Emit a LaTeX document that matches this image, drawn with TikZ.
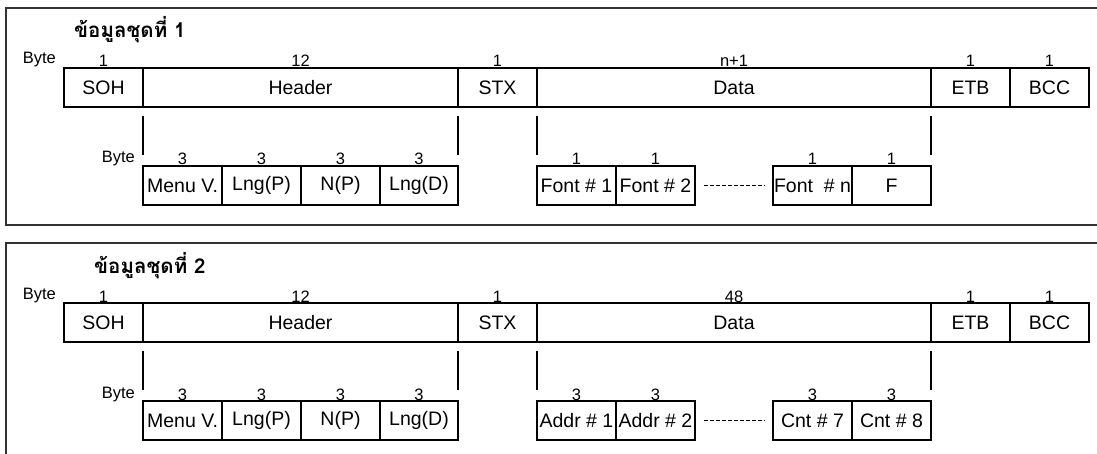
\documentclass[tikz,border=0pt]{standalone}
\usepackage{fontspec}
\setmainfont{Liberation Sans}
\newfontfamily\thaifont[Script=Thai]{Loma}
\begin{document}
\tikzset{
  box/.style={draw, line width=1.1pt, inner sep=0pt, outer sep=0pt, anchor=north west,
    minimum height=39pt, font=\fontsize{19.5}{22}\selectfont},
  sbox/.style={box, minimum width=79pt},
  num/.style={anchor=base, inner sep=0pt, yshift=1pt, font=\fontsize{16.5}{18}\selectfont},
  bytelbl/.style={anchor=base east, inner sep=0pt, font=\fontsize{16.5}{18}\selectfont},
  stub/.style={line width=1.1pt},
  dots/.style={line width=0.8pt, dash pattern=on 3.5pt off 2.5pt},
  frameline/.style={line width=1.5pt, draw=black!80},
  titlelbl/.style={anchor=base west, inner sep=0pt, font=\thaifont\bfseries\fontsize{20.5}{24}\selectfont}
}
\begin{tikzpicture}[x=1pt,y=-1pt]
\useasboundingbox (0,0) rectangle (1097,454);
% ---------------- record 1 ----------------
\draw[frameline] (1097,8) -- (6,8) -- (6,225) -- (1097,225);
\node[titlelbl] (ta) at (74,38) {ข้อมูลชุดที่ 1};
\node[bytelbl] (ba) at (56,64) {Byte};
\node[sbox] (soha) at (64,68) {SOH};
\node[box, minimum width=315pt] (hdra) at (143,68) {Header};
\node[sbox] (stxa) at (458,68) {STX};
\node[box, minimum width=394pt] (data) at (537,68) {Data};
\node[sbox] (etba) at (931,68) {ETB};
\node[sbox] (bcca) at (1010,68) {BCC};
\node[num] at (soha.north) {1};
\node[num] at (hdra.north) {12};
\node[num] at (stxa.north) {1};
\node[num] at (data.north) {n+1};
\node[num] at (etba.north) {1};
\node[num] at (bcca.north) {1};
\node[bytelbl] (bb) at (135,163) {Byte};
\node[box, minimum width=79pt] (mena) at (143,166) {Menu V.};
\node[box, minimum width=79pt] (lpa) at (222,166) {Lng(P)};
\node[box, minimum width=79pt] (npa) at (301,166) {N(P)};
\node[box, minimum width=78pt] (lda) at (380,166) {Lng(D)};
\node[sbox] (fa1) at (537,166) {Font \# 1};
\node[sbox] (fa2) at (616,166) {Font \# 2};
\node[sbox] (fan) at (773,166) {Font\ \ \# n};
\node[sbox] (faf) at (852,166) {F};
\foreach \n in {mena,lpa,npa,lda} {\node[num] at (\n.north) {3};}
\foreach \n in {fa1,fa2,fan,faf} {\node[num] at (\n.north) {1};}
\draw[stub] ([yshift=-9pt]hdra.south west) -- ([yshift=11pt]mena.north west);
\draw[stub] ([yshift=-9pt]hdra.south east) -- ([yshift=11pt]lda.north east);
\draw[stub] ([yshift=-9pt]data.south west) -- ([yshift=11pt]fa1.north west);
\draw[stub] ([yshift=-9pt]data.south east) -- ([yshift=11pt]faf.north east);
\draw[dots] ([xshift=9pt]fa2.east) -- ([xshift=-8pt]fan.west);
% ---------------- record 2 ----------------
\draw[frameline] (1097,243) -- (6,243) -- (6,454);
\node[titlelbl] (tb) at (94,273) {ข้อมูลชุดที่ 2};
\node[bytelbl] (bc) at (56,299) {Byte};
\node[sbox] (sohb) at (64,303) {SOH};
\node[box, minimum width=315pt] (hdrb) at (143,303) {Header};
\node[sbox] (stxb) at (458,303) {STX};
\node[box, minimum width=394pt] (datb) at (537,303) {Data};
\node[sbox] (etbb) at (931,303) {ETB};
\node[sbox] (bccb) at (1010,303) {BCC};
\node[num] at (sohb.north) {1};
\node[num] at (hdrb.north) {12};
\node[num] at (stxb.north) {1};
\node[num] at (datb.north) {48};
\node[num] at (etbb.north) {1};
\node[num] at (bccb.north) {1};
\node[bytelbl] (bd) at (135,398) {Byte};
\node[box, minimum width=79pt] (menb) at (143,401) {Menu V.};
\node[box, minimum width=79pt] (lpb) at (222,401) {Lng(P)};
\node[box, minimum width=79pt] (npb) at (301,401) {N(P)};
\node[box, minimum width=78pt] (ldb) at (380,401) {Lng(D)};
\node[sbox] (ad1) at (537,401) {Addr \# 1};
\node[sbox] (ad2) at (616,401) {Addr \# 2};
\node[sbox] (cn7) at (773,401) {Cnt \# 7};
\node[sbox] (cn8) at (852,401) {Cnt \# 8};
\foreach \n in {menb,lpb,npb,ldb,ad1,ad2,cn7,cn8} {\node[num] at (\n.north) {3};}
\draw[stub] ([yshift=-9pt]hdrb.south west) -- ([yshift=11pt]menb.north west);
\draw[stub] ([yshift=-9pt]hdrb.south east) -- ([yshift=11pt]ldb.north east);
\draw[stub] ([yshift=-9pt]datb.south west) -- ([yshift=11pt]ad1.north west);
\draw[stub] ([yshift=-9pt]datb.south east) -- ([yshift=11pt]cn8.north east);
\draw[dots] ([xshift=9pt]ad2.east) -- ([xshift=-8pt]cn7.west);
\end{tikzpicture}
\end{document}
